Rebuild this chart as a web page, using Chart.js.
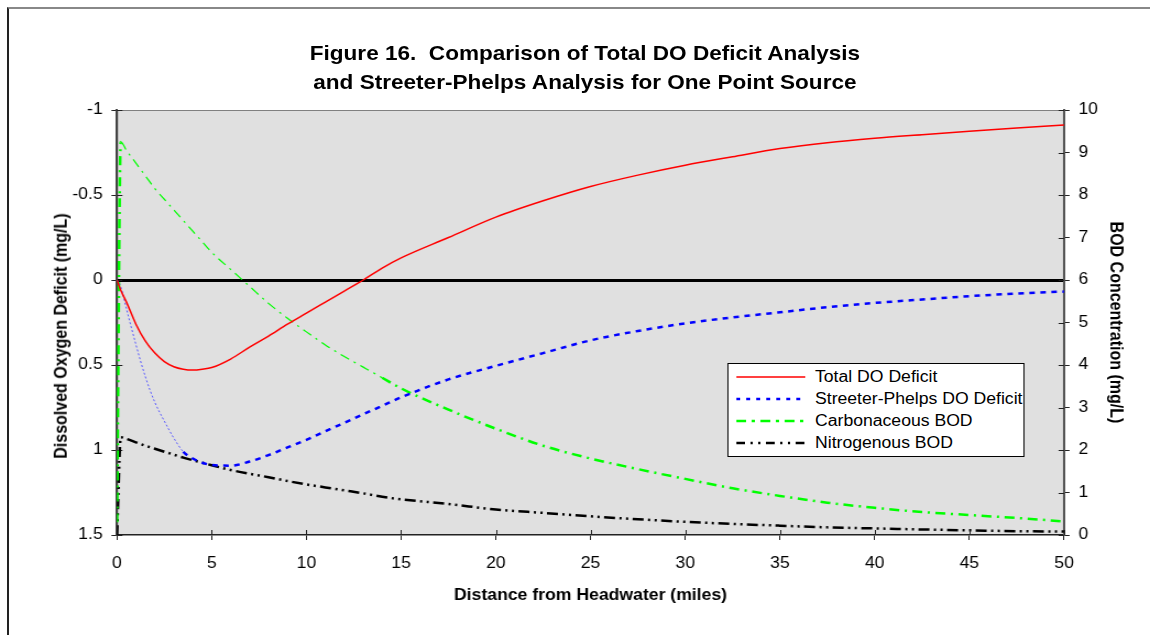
<!DOCTYPE html>
<html>
<head>
<meta charset="utf-8">
<title>Figure 16 - Total DO Deficit vs Streeter-Phelps</title>
<script src="https://cdn.jsdelivr.net/npm/chart.js@4.4.1/dist/chart.umd.min.js"></script>
<style>
  html, body { margin: 0; padding: 0; background: #fff; }
  body { width: 1150px; height: 635px; overflow: hidden; position: relative;
         font-family: 'Liberation Sans', Arial, sans-serif; color: #000; }
  /* outer chart-object frame (only top and left edges are in view) */
  .frame { position: absolute; left: 7px; top: 7px; width: 1170px; height: 660px;
           border-left: 2px solid #222; border-top: 2px solid #888; }
  /* the original is drawn slightly wide, so the whole figure is stretched a bit */
  .stretch { position: absolute; left: 0; top: 0; width: 1045px; height: 635px;
             transform: scaleX(1.10048); transform-origin: 0 0; }
  .plot { position: absolute; left: 0; top: 0; width: 1045px; height: 635px; }
  .title { position: absolute; left: 0; width: 1063px; top: 38px; text-align: center;
           font-weight: bold; font-size: 20.5px; line-height: 29px; }
  .ytitle { position: absolute; left: 55.9px; top: 336px; white-space: nowrap;
            font-weight: bold; font-size: 16px; transform: translate(-50%, -50%) rotate(-90deg); }
  .legend { position: absolute; left: 660.6px; top: 363px; width: 270.8px; height: 94px;
            box-sizing: border-box; border: 1px solid #000; background: #fff; padding-top: 2px; }
  .legend .row { height: 22px; display: flex; align-items: center; font-size: 16px; white-space: nowrap; }
  .legend svg { margin-left: 7px; margin-right: 9px; flex: none; }
</style>
</head>
<body>
<div class="frame"></div>
<div class="stretch">
  <div class="plot"><canvas id="chart"></canvas></div>
  <div class="title">Figure 16.&nbsp; Comparison of Total DO Deficit Analysis<br>and Streeter-Phelps Analysis for One Point Source</div>
  <div class="ytitle">Dissolved Oxygen Deficit (mg/L)</div>
  <div class="legend" id="legend"></div>
</div>
<script>
/* ── Data ── */
const distance = [0, 0.2, 0.5, 1, 1.5, 2, 2.5, 3, 3.5, 4, 4.5, 5, 6, 7, 8, 9, 10, 11, 12, 13,
                  14, 15, 17.5, 20, 22.5, 25, 27.5, 30, 32.5, 35, 37.5, 40, 42.5, 45, 47.5, 50];

// DO deficits, mg/L (left axis, reversed)
const totalDeficit = [0, 0.06, 0.13, 0.26, 0.36, 0.43, 0.48, 0.51, 0.525, 0.53, 0.525, 0.515, 0.465, 0.395, 0.33, 0.26, 0.195, 0.13, 0.065, 0,
                      -0.07, -0.13, -0.25, -0.37, -0.466, -0.55, -0.617, -0.675, -0.725, -0.773, -0.808, -0.834, -0.855, -0.875, -0.894, -0.912];
const spDeficit = [0, 0.04, 0.17, 0.38, 0.57, 0.72, 0.83, 0.93, 1.01, 1.05, 1.075, 1.088, 1.092, 1.068, 1.03, 0.985, 0.94, 0.89, 0.84, 0.79,
                   0.74, 0.69, 0.585, 0.505, 0.43, 0.355, 0.3, 0.255, 0.22, 0.19, 0.16, 0.135, 0.115, 0.095, 0.08, 0.068];

// BOD, mg/L (right axis)
const carbonBOD = [0.3, 9.25, 9.05, 8.75, 8.45, 8.15, 7.9, 7.65, 7.4, 7.15, 6.9, 6.65, 6.25, 5.85, 5.45, 5.1, 4.78, 4.47, 4.2, 3.95,
                   3.7, 3.45, 2.95, 2.5, 2.1, 1.8, 1.55, 1.32, 1.1, 0.92, 0.76, 0.64, 0.54, 0.47, 0.4, 0.32];
const nitroBOD = [0, 2.3, 2.26, 2.18, 2.1, 2.03, 1.96, 1.89, 1.82, 1.76, 1.7, 1.64, 1.53, 1.44, 1.36, 1.27, 1.19, 1.12, 1.05, 0.98,
                  0.9, 0.84, 0.73, 0.6, 0.52, 0.44, 0.37, 0.31, 0.26, 0.22, 0.18, 0.155, 0.13, 0.11, 0.09, 0.08];

const seriesLabels = ['Total DO Deficit', 'Streeter-Phelps DO Deficit', 'Carbonaceous BOD', 'Nitrogenous BOD'];
const xTicks = [0, 5, 10, 15, 20, 25, 30, 35, 40, 45, 50];
const deficitTicks = [-1, -0.5, 0, 0.5, 1, 1.5];
const bodTicks = [0, 1, 2, 3, 4, 5, 6, 7, 8, 9, 10];

/* ── Chart.js defaults ── */
Chart.defaults.font.family = "'Liberation Sans', Arial, sans-serif";
Chart.defaults.font.size = 16;
Chart.defaults.color = '#000';

const pts = vals => distance.map((d, i) => ({ x: d, y: vals[i] }));

/* gray plot area with thin border */
const plotBg = {
  id: 'plotBg',
  beforeDraw(chart) {
    const { ctx, chartArea: a } = chart;
    ctx.save();
    ctx.fillStyle = '#e0e0e0';
    ctx.fillRect(a.left, a.top, a.width, a.height);
    ctx.strokeStyle = '#808080';
    ctx.lineWidth = 1;
    ctx.strokeRect(a.left + 0.5, a.top + 0.5, a.width - 1, a.height - 1);
    ctx.restore();
  },
};

/* tick marks cross the axis lines, so add the inner half */
const innerTicks = {
  id: 'innerTicks',
  beforeDatasetsDraw(chart) {
    const { ctx, chartArea: a, scales } = chart;
    ctx.save();
    ctx.strokeStyle = '#222';
    ctx.lineWidth = 1;
    ctx.beginPath();
    for (const t of scales.x.ticks) {
      const p = Math.round(scales.x.getPixelForValue(t.value)) + 0.5;
      ctx.moveTo(p, a.bottom); ctx.lineTo(p, a.bottom - 5);
    }
    for (const t of scales.y.ticks) {
      const p = Math.round(scales.y.getPixelForValue(t.value)) + 0.5;
      ctx.moveTo(a.left, p); ctx.lineTo(a.left + 5, p);
    }
    for (const t of scales.y2.ticks) {
      const p = Math.round(scales.y2.getPixelForValue(t.value)) + 0.5;
      ctx.moveTo(a.right, p); ctx.lineTo(a.right - 5, p);
    }
    ctx.stroke();
    ctx.restore();
  },
};

const fixedTicks = list => scale => { scale.ticks = list.map(v => ({ value: v })); };

const datasets = [
  {
    label: seriesLabels[0], data: pts(totalDeficit), yAxisID: 'y',
    borderColor: '#ff0000', borderWidth: 1.5, borderDash: [],
  },
  {
    label: seriesLabels[1], data: pts(spDeficit), yAxisID: 'y',
    borderColor: '#0000ff', borderWidth: 2.5, borderDash: [5, 5], legendDash: [3.6, 5.5],
    segment: {
      borderWidth: c => distance[c.p1DataIndex] <= 3.5 ? 1 : undefined,
      borderDash: c => distance[c.p1DataIndex] <= 3.5 ? [2, 2] : undefined,
      borderColor: c => distance[c.p1DataIndex] <= 3.5 ? '#5a5aff' : undefined,
    },
  },
  {
    label: seriesLabels[2], data: pts(carbonBOD), yAxisID: 'y2',
    borderColor: '#00ff00', borderWidth: 2.5, borderDash: [9, 5, 2, 5], legendDash: [9, 5, 3, 5],
    segment: {
      borderWidth: c => (distance[c.p0DataIndex] >= 0.2 && distance[c.p1DataIndex] <= 14) ? 1.2 : undefined,
    },
  },
  {
    label: seriesLabels[3], data: pts(nitroBOD), yAxisID: 'y2',
    borderColor: '#000000', borderWidth: 2.5, borderDash: [10, 4, 2, 4, 2, 4], legendDash: [8, 5, 2, 5, 2, 5],
  },
];

new Chart(document.getElementById('chart'), {
  type: 'line',
  data: { datasets },
  options: {
    responsive: true,
    maintainAspectRatio: false,
    animation: false,
    layout: { padding: { top: 110, left: 0, right: 0, bottom: 0 } },
    elements: {
      point: { radius: 0, hoverRadius: 0 },
      line: { cubicInterpolationMode: 'monotone', fill: false },
    },
    plugins: {
      legend: { display: false },
      tooltip: { enabled: false },
    },
    scales: {
      x: {
        type: 'linear', min: 0, max: 50,
        afterBuildTicks: fixedTicks(xTicks),
        afterFit: s => { s.height = 100; },
        border: { display: true, color: '#222', width: 1.5 },
        grid: { drawOnChartArea: false, tickLength: 5, tickColor: '#222' },
        ticks: { padding: 14, maxRotation: 0, callback: v => String(v) },
        title: {
          display: true, text: 'Distance from Headwater (miles)',
          font: { size: 16, weight: 'bold' }, padding: { top: 4, bottom: 30 },
        },
      },
      y: {
        type: 'linear', position: 'left', reverse: true, min: -1, max: 1.5,
        afterBuildTicks: fixedTicks(deficitTicks),
        afterFit: s => { s.width = 106.3; },
        border: { display: true, color: '#444', width: 2 },
        grid: {
          color: c => c.tick && c.tick.value === 0 ? '#000' : 'rgba(0,0,0,0)',
          lineWidth: c => c.tick && c.tick.value === 0 ? 3 : 1,
          tickLength: 5, tickColor: '#222', tickWidth: 1,
        },
        ticks: { padding: 8, callback: v => String(v) },
        title: { display: false },
      },
      y2: {
        type: 'linear', position: 'right', min: 0, max: 10,
        afterBuildTicks: fixedTicks(bodTicks),
        afterFit: s => { s.width = 78.1; },
        border: { display: true, color: '#555', width: 2 },
        grid: { drawOnChartArea: false, tickLength: 5, tickColor: '#222' },
        ticks: { padding: 8, callback: v => String(v) },
        title: {
          display: true, text: 'BOD Concentration (mg/L)',
          font: { size: 16, weight: 'bold' }, padding: { top: 22, bottom: 0 },
        },
      },
    },
  },
  plugins: [plotBg, innerTicks],
});

/* ── HTML legend, built from the same datasets ── */
const legend = document.getElementById('legend');
for (const ds of datasets) {
  const row = document.createElement('div');
  row.className = 'row';
  const dash = (ds.legendDash || []).join(' ');
  row.innerHTML =
    `<svg width="63" height="6"><line x1="0" y1="3" x2="63" y2="3" stroke="${ds.borderColor}" ` +
    `stroke-width="${ds.borderWidth > 2 ? 2.5 : 1.5}" ${dash ? `stroke-dasharray="${dash}"` : ''}/></svg>` +
    `<span>${ds.label}</span>`;
  legend.appendChild(row);
}
</script>
</body>
</html>
